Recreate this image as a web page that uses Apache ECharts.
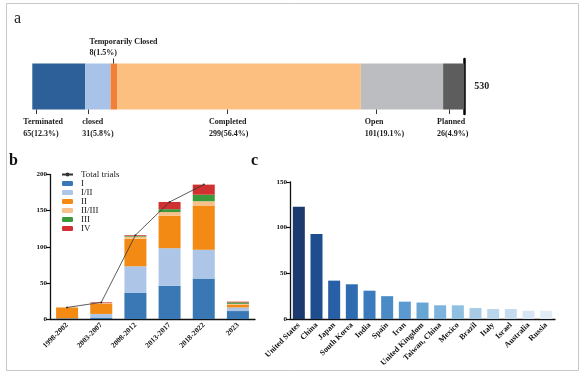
<!DOCTYPE html>
<html><head><meta charset="utf-8">
<script src="https://cdn.jsdelivr.net/npm/echarts@6/dist/echarts.min.js"></script>
<style>html,body{margin:0;padding:0;background:#fff}#c{width:588px;height:379px}</style>
</head><body><div id="c"></div>
<script>
// ---- Panel a data ----
const statusNames = ['Terminated', 'closed', 'Temporarily Closed', 'Completed', 'Open', 'Planned'];
const statusCounts = [65, 31, 8, 299, 101, 26];

// ---- Panel b data ----
const periods = ['1998-2002', '2003-2007', '2008-2012', '2013-2017', '2018-2022', '2023'];
const phaseNames = ['I', 'I/II', 'II', 'II/III', 'III', 'IV'];
const phaseI = [1, 2, 36, 46, 56, 11];
const phaseI_II = [0, 5, 37, 52, 40, 5];
const phaseII = [15, 14, 38, 45, 61, 4];
const phaseII_III = [0, 1, 3, 5, 6, 1];
const phaseIII = [0, 0, 1, 4, 9, 2];
const phaseIV = [0, 1, 1, 10, 14, 1];
const totalTrials = [16, 23, 116, 162, 186, null];

// ---- Panel c data ----
const countries = ['United States', 'China', 'Japan', 'South Korea', 'India', 'Spain', 'Iran',
  'United Kingdom', 'Taiwan, China', 'Mexico', 'Brazil', 'Italy', 'Israel', 'Australia', 'Russia'];
const countryTrials = [123, 93, 42, 38, 31, 25, 19, 18, 15, 15, 12, 11, 11, 9, 9];

// ---- styles ----
const statusColors = ['#2d5f99', '#a8c3e7', '#f08038', '#fdbf80', '#bbbdc1', '#5d5d5d'];
const statusLabelStyle = [
  { dx: -9, tick: 13, above: false },
  { dx: -3, tick: 6, above: false },
  { dx: -21, tick: 23, above: true },
  { dx: 92, tick: 18, above: false },
  { dx: 4, tick: 11, above: false },
  { dx: -6, tick: 12, above: false }
];
const phaseColors = ['#3a78b5', '#adc6e8', '#f28a14', '#f8c08a', '#3a9a3a', '#d03030'];
const countryColors = ['#1d3a6e', '#1f4e8f', '#2860a8', '#2f6bb0', '#3b7bbd', '#4a8bc6', '#5b9ad0',
  '#67a5d5', '#7db3dc', '#8fbfe1', '#a7cbe6', '#bad6ec', '#c5dcef', '#d8e6f4', '#e2ecf7'];

const SERIF = '"Liberation Serif", "Times New Roman", serif';
const total = statusCounts.reduce((a, b) => a + b, 0);
const statusStarts = statusCounts.map((v, i) => statusCounts.slice(0, i).reduce((a, b) => a + b, 0));
const axisCol = '#111';
const BARH = 46;

const chart = echarts.init(document.getElementById('c'), null, { renderer: 'canvas' });

const statusSeries = statusNames.map((name, i) => {
  const st = statusLabelStyle[i];
  const txt = { fontFamily: SERIF, fontWeight: 'bold', fontSize: 8, color: '#1a1a1a' };
  return {
    name, type: 'bar', stack: 'a', xAxisIndex: 2, yAxisIndex: 2, barWidth: BARH,
    data: [statusCounts[i]],
    itemStyle: { color: statusColors[i] },
    label: {
      show: true,
      position: [st.dx, st.above ? -5 : BARH + 5],
      align: 'left',
      verticalAlign: st.above ? 'bottom' : 'top',
      formatter: (p) => {
        const pct = (p.value / total * 100).toFixed(1);
        return `{b1|${name}}\n{b2|${p.value}(${pct}%)}`;
      },
      rich: {
        b1: Object.assign({}, txt, { lineHeight: st.above ? 11 : 15 }),
        b2: Object.assign({}, txt, { lineHeight: st.above ? 11 : 9 })
      }
    },
    animation: false
  };
});

// leader ticks for panel a labels, placed through the axis scale
const tickSeries = {
  type: 'custom', xAxisIndex: 2, yAxisIndex: 2, z: 10, silent: true,
  data: statusStarts.map((s, i) => [s, 0, i]),
  encode: { x: 0, y: 1 },
  renderItem: (params, api) => {
    const i = api.value(2);
    const st = statusLabelStyle[i];
    const pt = api.coord([api.value(0), 0]);
    const x = Math.round(pt[0] + st.dx + st.tick) + 0.5;
    const y0 = st.above ? pt[1] - BARH / 2 : pt[1] + BARH / 2;
    const y1 = st.above ? y0 - 5 : y0 + 4.5;
    return { type: 'line', shape: { x1: x, y1: y0, x2: x, y2: y1 }, style: { stroke: '#333', lineWidth: 1 } };
  },
  animation: false
};

const phaseData = [phaseI, phaseI_II, phaseII, phaseII_III, phaseIII, phaseIV];
const phaseSeries = phaseNames.map((name, i) => ({
  name, type: 'bar', stack: 'b', xAxisIndex: 0, yAxisIndex: 0, barWidth: 22,
  data: phaseData[i], itemStyle: { color: phaseColors[i] }, animation: false
}));

const tickLabel = { fontFamily: SERIF, fontWeight: 'bold', fontSize: 7, color: '#111' };

const option = {
  animation: false,
  backgroundColor: '#fff',
  grid: [
    { left: 50, top: 174.5, width: 205, height: 144.5 },
    { left: 290, top: 182, width: 265, height: 137 },
    { left: 32.3, top: 59, width: 432, height: 55 }
  ],
  legend: {
    orient: 'vertical', left: 56, top: 165, itemWidth: 11, itemHeight: 5, itemGap: 0,
    data: ['Total trials'].concat(phaseNames),
    textStyle: { fontFamily: SERIF, fontSize: 9, color: '#222', lineHeight: 8, padding: [0, 0, 0, 3] }
  },
  xAxis: [
    {
      gridIndex: 0, type: 'category', data: periods,
      axisLine: { lineStyle: { color: axisCol, width: 1.3 } },
      axisTick: { alignWithLabel: true, length: 4, lineStyle: { color: axisCol, width: 1.2 } },
      axisLabel: Object.assign({}, tickLabel, { fontSize: 7.5, rotate: 45, interval: 0, margin: 5 })
    },
    {
      gridIndex: 1, type: 'category', data: countries,
      axisLine: { lineStyle: { color: axisCol, width: 1.3 } },
      axisTick: { alignWithLabel: true, length: 4, lineStyle: { color: axisCol, width: 1.2 } },
      axisLabel: Object.assign({}, tickLabel, { fontSize: 8, rotate: 45, interval: 0, margin: 5 })
    },
    { gridIndex: 2, type: 'value', min: 0, max: total, show: false }
  ],
  yAxis: [
    {
      gridIndex: 0, type: 'value', min: 0, max: 200, interval: 50,
      axisLine: { show: true, lineStyle: { color: axisCol, width: 1.3 } },
      axisTick: { show: true, length: 4, lineStyle: { color: axisCol, width: 1.2 } },
      splitLine: { show: false },
      axisLabel: Object.assign({}, tickLabel, { margin: 3 })
    },
    {
      gridIndex: 1, type: 'value', min: 0, max: 150, interval: 50,
      axisLine: { show: true, lineStyle: { color: axisCol, width: 1.3 } },
      axisTick: { show: true, length: 4, lineStyle: { color: axisCol, width: 1.2 } },
      splitLine: { show: false },
      axisLabel: Object.assign({}, tickLabel, { margin: 3 })
    },
    {
      gridIndex: 2, type: 'category', data: ['all'], position: 'right',
      axisLine: { show: true, onZero: false, lineStyle: { color: '#000', width: 2.5 } },
      axisTick: { show: false },
      axisLabel: { formatter: () => String(total), fontFamily: SERIF, fontWeight: 'bold', fontSize: 10, color: '#222', margin: 10 }
    }
  ],
  series: phaseSeries.concat([
    {
      name: 'Total trials', type: 'line', xAxisIndex: 0, yAxisIndex: 0, data: totalTrials,
      symbol: 'circle', symbolSize: 2, z: 5,
      itemStyle: { color: '#333' }, lineStyle: { color: '#333', width: 0.8 }, animation: false
    },
    {
      name: 'countries', type: 'bar', xAxisIndex: 1, yAxisIndex: 1, barWidth: 12,
      data: countryTrials.map((v, i) => ({ value: v, itemStyle: { color: countryColors[i] } })),
      animation: false
    }
  ]).concat(statusSeries).concat([tickSeries]),
  graphic: [
    { type: 'rect', silent: true, shape: { x: 6.5, y: 3.5, width: 572, height: 367 }, style: { fill: 'none', stroke: '#c8c8c8', lineWidth: 1 } },
    { type: 'text', silent: true, style: { text: 'a', x: 14, y: 11, font: '16px ' + SERIF, fill: '#222' } },
    { type: 'text', silent: true, style: { text: 'b', x: 9, y: 153, font: 'bold 16px ' + SERIF, fill: '#111' } },
    { type: 'text', silent: true, style: { text: 'c', x: 251, y: 153, font: 'bold 16px ' + SERIF, fill: '#111' } }
  ]
};
chart.setOption(option);
</script>
</body></html>
